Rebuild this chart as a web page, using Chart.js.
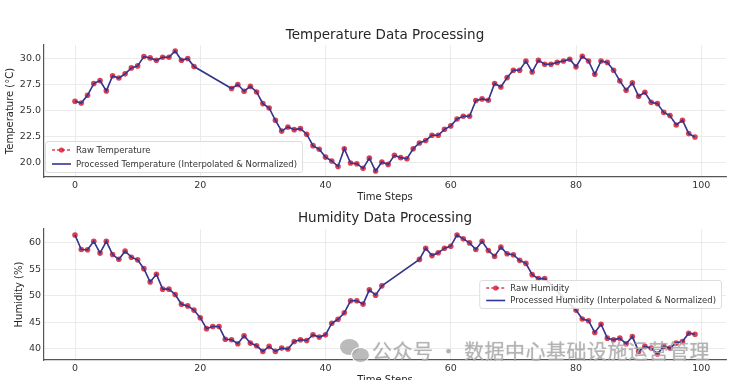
<!DOCTYPE html>
<html>
<head>
<meta charset="utf-8">
<script src="https://cdn.jsdelivr.net/npm/chart.js@4"></script>
<style>
  html, body { margin:0; padding:0; background:#fff; width:730px; height:380px; overflow:hidden; }
  #wrap { position:relative; width:730px; height:380px; }
  canvas { position:absolute; left:0; }
  #c1 { top:0; }
  #c2 { top:203px; }
  #wm { position:absolute; left:372px; top:336px; font-family:"Noto Sans CJK SC", sans-serif; font-size:20px;
        color:rgba(175,175,175,0.8); white-space:nowrap; letter-spacing:0.5px; text-shadow:0 0 1px rgba(120,120,120,0.5); }
  .bub { position:absolute; border-radius:50%; background:rgba(170,170,170,0.8); }
</style>
</head>
<body>
<div id="wrap">
  <canvas id="c1" width="730" height="203"></canvas>
  <canvas id="c2" width="730" height="185"></canvas>
  <div class="bub" style="left:340px;top:339px;width:19px;height:16px;"></div>
  <div class="bub" style="left:351px;top:347px;width:17px;height:14px;border:1px solid #fff;"></div>
  <div id="wm">公众号 · 数据中心基础设施运营管理</div>
</div>
<script>
// ---- data ----
const timeSteps = Array.from({length: 100}, (_, i) => i);
const xTickValues = [0, 20, 40, 60, 80, 100];
const tempTickValues = [20.0, 22.5, 25.0, 27.5, 30.0];
const humTickValues = [40, 45, 50, 55, 60];

const rawTemperature = [
  25.87, 25.7, 26.44, 27.57, 27.85, 26.86, 28.3, 28.1, 28.5, 29.07,
  29.26, 30.16, 30.03, 29.8, 30.1, 30.1, 30.7, 29.8, 29.97, 29.2,
  null, null, null, null, null, 27.09, 27.47, 26.83, 27.3, 26.76,
  25.64, 25.22, 24.04, 23.0, 23.4, 23.14, 23.24, 22.7, 21.6, 21.25,
  20.5, 20.13, 19.6, 21.3, 19.93, 19.87, 19.42, 20.4, 19.16, 20.03,
  19.8, 20.67, 20.45, 20.35, 21.3, 21.86, 22.1, 22.6, 22.6, 23.17,
  23.5, 24.16, 24.42, 24.42, 25.93, 26.09, 25.96, 27.57, 27.24, 28.14,
  28.85, 28.85, 29.72, 28.68, 29.8, 29.42, 29.42, 29.6, 29.74, 29.9,
  29.17, 30.19, 29.74, 28.46, 29.74, 29.6, 28.85, 27.82, 26.92, 27.63,
  26.35, 26.73, 25.77, 25.64, 24.8, 24.49, 23.59, 24.04, 22.76, 22.43
];
const rawHumidity = [
  61.5, 58.76, 58.7, 60.3, 58.07, 60.3, 57.8, 56.9, 58.44, 57.3,
  56.8, 55.13, 52.6, 54.07, 51.26, 51.26, 50.26, 48.4, 48.1, 47.3,
  45.87, 43.8, 44.2, 44.2, 41.8, 41.7, 40.94, 42.44, 41.07, 40.56,
  39.5, 40.44, 39.5, 40.12, 39.94, 41.37, 41.69, 41.56, 42.63, 42.2,
  42.63, 44.82, 45.57, 46.8, 49.06, 49.06, 48.44, 51.13, 50.13, 51.88,
  null, null, null, null, null, 56.88, 59.0, 57.6, 58.13, 59.0,
  59.38, 61.5, 60.76, 60.0, 58.76, 60.3, 58.57, 57.45, 59.2, 57.95,
  57.77, 56.7, 56.13, 54.0, 53.25, 53.25, null, null, null, null,
  47.3, 45.63, 45.3, 43.06, 44.63, 42.0, 41.69, 42.0, 40.94, 42.3,
  39.5, 40.44, 40.12, 39.0, 40.44, 40.12, 41.07, 41.37, 42.94, 42.75
];

// ---- styling ----
const FONT = '"DejaVu Sans", "Liberation Sans", sans-serif';
const RAW_COLOR = 'rgba(214,32,52,0.85)';
const PROC_COLOR = '#35358f';

const titlePlugin = {
  id: 'axTitle',
  afterDraw(chart, args, opts) {
    const {ctx, chartArea} = chart;
    ctx.save();
    ctx.font = '13.5px ' + FONT;
    ctx.fillStyle = '#262626';
    ctx.textAlign = 'center';
    ctx.textBaseline = 'middle';
    ctx.fillText(opts.text, (chartArea.left + chartArea.right) / 2, opts.y);
    ctx.restore();
  }
};

const legendPlugin = {
  id: 'boxLegend',
  afterDraw(chart, args, opts) {
    const {ctx, chartArea} = chart;
    const ds = chart.data.datasets;
    const items = [ds.find(d => d.kind === 'raw'), ds.find(d => d.kind === 'proc')];
    ctx.save();
    ctx.font = '8.5px ' + FONT;
    const tw = Math.max(...items.map(d => ctx.measureText(d.label).width));
    const w = 31 + tw + 5, h = opts.h;
    const x = opts.anchor === 'left' ? chartArea.left + opts.dx : chartArea.right - opts.dx - w;
    const y = opts.fromBottom ? chartArea.bottom - opts.dy - h : chartArea.top + opts.dy;
    ctx.fillStyle = 'rgba(255,255,255,0.85)';
    ctx.strokeStyle = '#d4d4d4';
    ctx.lineWidth = 0.8;
    ctx.beginPath();
    ctx.roundRect(x + 0.5, y + 0.5, w, h, 2.5);
    ctx.fill(); ctx.stroke();
    items.forEach((d, k) => {
      const cy = y + opts.r0 + k * opts.gap;
      if (d.kind === 'raw') {
        ctx.strokeStyle = RAW_COLOR; ctx.lineWidth = 1.3; ctx.setLineDash([3, 2]);
        ctx.beginPath(); ctx.moveTo(x + 7, cy); ctx.lineTo(x + 26, cy); ctx.stroke();
        ctx.setLineDash([]);
        ctx.fillStyle = RAW_COLOR;
        ctx.beginPath(); ctx.arc(x + 16.5, cy, 2.6, 0, Math.PI * 2); ctx.fill();
      } else {
        ctx.strokeStyle = PROC_COLOR; ctx.lineWidth = 1.6;
        ctx.beginPath(); ctx.moveTo(x + 7, cy); ctx.lineTo(x + 26, cy); ctx.stroke();
      }
      ctx.fillStyle = '#333';
      ctx.textAlign = 'left'; ctx.textBaseline = 'middle';
      ctx.fillText(d.label, x + 31, cy + 0.5);
    });
    ctx.restore();
  }
};

function makeChart(id, cfg) {
  return new Chart(document.getElementById(id), {
    type: 'line',
    data: {
      labels: timeSteps,
      datasets: [
        {
          kind: 'raw', label: cfg.rawLabel, data: cfg.values, order: 1,
          borderColor: RAW_COLOR, borderWidth: 1, borderDash: [3, 2],
          pointRadius: 2.8, pointBackgroundColor: RAW_COLOR, pointBorderWidth: 0,
          spanGaps: false, tension: 0
        },
        {
          kind: 'proc', label: cfg.procLabel, data: cfg.values, order: 0,
          borderColor: PROC_COLOR, borderWidth: 1.6, pointRadius: 0,
          spanGaps: true, tension: 0
        }
      ]
    },
    options: {
      responsive: false,
      animation: false,
      parsing: true,
      layout: { padding: { top: cfg.padTop, left: 0, right: 3, bottom: 0 } },
      plugins: {
        legend: { display: false },
        tooltip: { enabled: false },
        axTitle: { text: cfg.title, y: cfg.titleY },
        boxLegend: cfg.legend
      },
      scales: {
        x: {
          type: 'linear', min: -4.95, max: 103.95,
          afterBuildTicks: s => { s.ticks = xTickValues.map(v => ({value: v})); },
          afterFit: s => { s.height = cfg.xHeight; },
          ticks: { font: {family: FONT, size: 9.5}, color: '#333', padding: 3, maxRotation: 0, autoSkip: false },
          grid: { color: '#e6e6e6', lineWidth: 0.8, drawTicks: false },
          border: { display: true, color: '#555', width: 1.2 },
          title: { display: true, text: 'Time Steps', font: {family: FONT, size: 10}, color: '#262626', padding: {top: 0, bottom: cfg.xTitlePad} }
        },
        y: {
          type: 'linear', min: cfg.yMin, max: cfg.yMax,
          afterBuildTicks: s => { s.ticks = cfg.yTicks.map(v => ({value: v})); },
          afterFit: s => { s.width = 44; },
          ticks: { font: {family: FONT, size: 9.5}, color: '#333', padding: 3, callback: cfg.yFmt },
          grid: { color: '#e6e6e6', lineWidth: 0.8, drawTicks: false },
          border: { display: true, color: '#555', width: 1.2 },
          title: { display: true, text: cfg.yLabel, font: {family: FONT, size: 10}, color: '#262626', padding: {top: cfg.yTitlePad, bottom: 0} }
        }
      }
    },
    plugins: [titlePlugin, legendPlugin]
  });
}

makeChart('c1', {
  values: rawTemperature,
  rawLabel: 'Raw Temperature',
  procLabel: 'Processed Temperature (Interpolated & Normalized)',
  title: 'Temperature Data Processing', titleY: 35,
  padTop: 45, xHeight: 26, xTitlePad: 0,
  yMin: 18.59, yMax: 31.27, yTicks: tempTickValues, yFmt: v => Number(v).toFixed(1),
  yLabel: 'Temperature (°C)', yTitlePad: 4,
  legend: { anchor: 'left', dx: 1, dy: 5, fromBottom: true, h: 31, r0: 9, gap: 14 }
});

makeChart('c2', {
  values: rawHumidity,
  rawLabel: 'Raw Humidity',
  procLabel: 'Processed Humidity (Interpolated & Normalized)',
  title: 'Humidity Data Processing', titleY: 15,
  padTop: 26, xHeight: 28, xTitlePad: 2,
  yMin: 37.875, yMax: 62.625, yTicks: humTickValues, yFmt: v => String(v),
  yLabel: 'Humidity (%)', yTitlePad: 13,
  legend: { anchor: 'right', dx: 5, dy: 51, fromBottom: false, h: 28, r0: 8, gap: 12.5 }
});
</script>
</body>
</html>
